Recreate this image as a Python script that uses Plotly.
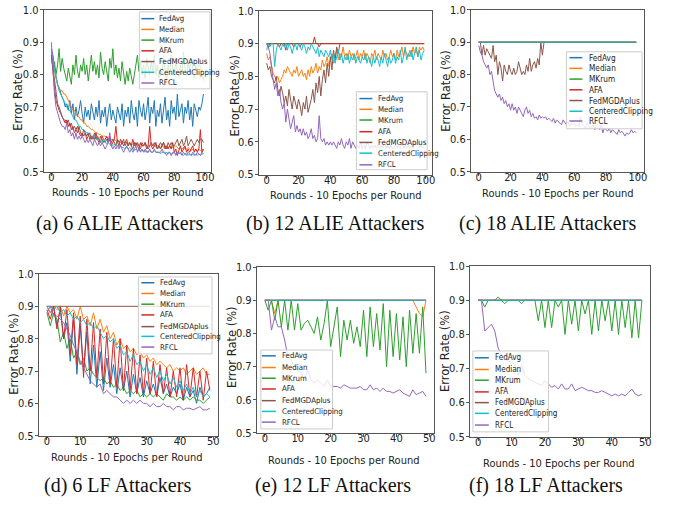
import plotly.graph_objects as go

# ---------------- DATA ----------------
methods = ["FedAvg", "Median", "MKrum", "AFA", "FedMGDAplus", "CenteredClipping", "RFCL"]
colors = ["#1f77b4", "#ff7f0e", "#2ca02c", "#d62728", "#8c564b", "#17becf", "#9467bd"]

x_ticks_alie = [0, 20, 40, 60, 80, 100]
x_ticks_lf = [0, 10, 20, 30, 40, 50]
y_ticks = [0.5, 0.6, 0.7, 0.8, 0.9, 1.0]

captions = ["(a) 6 ALIE Attackers", "(b) 12 ALIE Attackers", "(c) 18 ALIE Attackers",
            "(d) 6 LF Attackers", "(e) 12 LF Attackers", "(f) 18 LF Attackers"]
x_title = "Rounds - 10 Epochs per Round"
y_title = "Error Rate (%)"

# (a) 6 ALIE attackers, 100 rounds
a_fedavg = [0.88, 0.86, 0.82, 0.79, 0.77, 0.76, 0.74, 0.73, 0.72, 0.70,
            0.71, 0.69, 0.72, 0.68, 0.71, 0.66, 0.70, 0.67, 0.69, 0.72,
            0.68, 0.65, 0.70, 0.67, 0.69, 0.66, 0.71, 0.68, 0.66, 0.70,
            0.67, 0.72, 0.65, 0.69, 0.67, 0.70, 0.64, 0.68, 0.71, 0.66,
            0.69, 0.67, 0.65, 0.70, 0.68, 0.66, 0.71, 0.64, 0.69, 0.67,
            0.70, 0.65, 0.72, 0.68, 0.66, 0.70, 0.64, 0.72, 0.69, 0.67,
            0.71, 0.66, 0.69, 0.73, 0.65, 0.70, 0.68, 0.72, 0.64, 0.69,
            0.67, 0.71, 0.65, 0.70, 0.73, 0.66, 0.69, 0.64, 0.72, 0.68,
            0.70, 0.66, 0.74, 0.67, 0.69, 0.71, 0.65, 0.70, 0.68, 0.72,
            0.66, 0.70, 0.64, 0.71, 0.69, 0.67, 0.70, 0.69, 0.71, 0.74]
a_median = [0.87, 0.84, 0.81, 0.79, 0.77, 0.76, 0.75, 0.75, 0.74, 0.74,
            0.73, 0.72, 0.71, 0.70, 0.69, 0.69, 0.68, 0.67, 0.67, 0.66,
            0.66, 0.65, 0.65, 0.64, 0.64, 0.635, 0.63, 0.63, 0.625, 0.62,
            0.62, 0.615, 0.615, 0.61, 0.61, 0.61, 0.605, 0.605, 0.60, 0.60,
            0.60, 0.60, 0.595, 0.595, 0.595, 0.59, 0.59, 0.59, 0.59, 0.59,
            0.59, 0.585, 0.585, 0.585, 0.59, 0.585, 0.585, 0.58, 0.585, 0.58,
            0.58, 0.585, 0.58, 0.58, 0.58, 0.585, 0.58, 0.58, 0.575, 0.58,
            0.58, 0.575, 0.58, 0.575, 0.58, 0.575, 0.575, 0.58, 0.575, 0.575,
            0.575, 0.58, 0.575, 0.57, 0.575, 0.57, 0.575, 0.57, 0.57, 0.575,
            0.57, 0.565, 0.57, 0.565, 0.57, 0.565, 0.57, 0.565, 0.57, 0.565]
a_mkrum = [0.86, 0.82, 0.84, 0.80, 0.83, 0.88, 0.81, 0.85, 0.82, 0.80,
           0.78, 0.82, 0.79, 0.77, 0.83, 0.80, 0.86, 0.81, 0.79, 0.83,
           0.81, 0.85, 0.80, 0.83, 0.78, 0.82, 0.86, 0.81, 0.84, 0.80,
           0.83, 0.79, 0.87, 0.82, 0.80, 0.84, 0.81, 0.78, 0.85, 0.82,
           0.88, 0.80, 0.83, 0.79, 0.82, 0.78, 0.84, 0.80, 0.77, 0.81,
           0.78, 0.82, 0.79, 0.77, 0.80, 0.83, 0.86, 0.81, 0.84, 0.80,
           0.83, 0.79, 0.85, 0.82, 0.80, 0.84, 0.81, 0.86, 0.80, 0.83,
           0.79, 0.82, 0.80, 0.85, 0.81, 0.78, 0.83, 0.80, 0.86, 0.82,
           0.80, 0.84, 0.81, 0.79, 0.83, 0.80, 0.87, 0.82, 0.80, 0.84,
           0.81, 0.85, 0.82, 0.79, 0.83, 0.80, 0.85, 0.82, 0.81, 0.78]
a_afa = [0.86, 0.80, 0.76, 0.72, 0.70, 0.69, 0.68, 0.67, 0.66, 0.65,
         0.66, 0.64, 0.65, 0.63, 0.64, 0.62, 0.63, 0.64, 0.62, 0.61,
         0.62, 0.61, 0.62, 0.60, 0.61, 0.62, 0.60, 0.61, 0.60, 0.62,
         0.60, 0.59, 0.61, 0.60, 0.59, 0.60, 0.61, 0.59, 0.60, 0.58,
         0.59, 0.60, 0.64, 0.59, 0.58, 0.60, 0.59, 0.58, 0.59, 0.60,
         0.58, 0.59, 0.58, 0.60, 0.58, 0.59, 0.58, 0.57, 0.59, 0.58,
         0.58, 0.59, 0.57, 0.58, 0.64, 0.58, 0.57, 0.58, 0.59, 0.57,
         0.58, 0.57, 0.58, 0.59, 0.57, 0.58, 0.57, 0.58, 0.57, 0.59,
         0.56, 0.57, 0.55, 0.57, 0.58, 0.56, 0.57, 0.58, 0.56, 0.57,
         0.56, 0.57, 0.58, 0.56, 0.57, 0.56, 0.57, 0.63, 0.56, 0.57]
a_fedmgda = [0.86, 0.82, 0.78, 0.74, 0.71, 0.70, 0.68, 0.67, 0.66, 0.66,
             0.65, 0.66, 0.64, 0.65, 0.63, 0.64, 0.63, 0.62, 0.64, 0.62,
             0.61, 0.63, 0.62, 0.61, 0.62, 0.60, 0.61, 0.60, 0.62, 0.60,
             0.61, 0.60, 0.59, 0.61, 0.60, 0.59, 0.60, 0.59, 0.61, 0.59,
             0.60, 0.59, 0.58, 0.60, 0.59, 0.58, 0.59, 0.60, 0.58, 0.59,
             0.58, 0.59, 0.58, 0.57, 0.59, 0.58, 0.59, 0.58, 0.57, 0.59,
             0.58, 0.59, 0.58, 0.57, 0.58, 0.59, 0.58, 0.59, 0.58, 0.57,
             0.58, 0.59, 0.58, 0.59, 0.58, 0.57, 0.59, 0.58, 0.59, 0.58,
             0.58, 0.59, 0.60, 0.58, 0.59, 0.60, 0.58, 0.59, 0.61, 0.58,
             0.59, 0.60, 0.59, 0.58, 0.59, 0.60, 0.59, 0.60, 0.60, 0.59]
a_cc = [0.87, 0.84, 0.81, 0.79, 0.77, 0.75, 0.74, 0.73, 0.72, 0.71,
        0.70, 0.69, 0.69, 0.68, 0.67, 0.66, 0.66, 0.65, 0.64, 0.64,
        0.63, 0.63, 0.625, 0.62, 0.62, 0.615, 0.61, 0.61, 0.605, 0.60,
        0.60, 0.60, 0.595, 0.59, 0.60, 0.59, 0.585, 0.59, 0.585, 0.58,
        0.58, 0.585, 0.58, 0.58, 0.575, 0.58, 0.575, 0.575, 0.57, 0.575,
        0.57, 0.575, 0.57, 0.57, 0.565, 0.57, 0.565, 0.57, 0.565, 0.565,
        0.565, 0.56, 0.565, 0.56, 0.565, 0.56, 0.56, 0.565, 0.56, 0.56,
        0.56, 0.555, 0.56, 0.56, 0.555, 0.56, 0.555, 0.56, 0.555, 0.555,
        0.56, 0.555, 0.555, 0.56, 0.555, 0.555, 0.55, 0.555, 0.555, 0.55,
        0.555, 0.55, 0.555, 0.55, 0.555, 0.55, 0.555, 0.55, 0.555, 0.555]
a_rfcl = [0.90, 0.80, 0.74, 0.70, 0.68, 0.66, 0.65, 0.64, 0.64, 0.63,
          0.65, 0.62, 0.63, 0.61, 0.62, 0.60, 0.62, 0.60, 0.61, 0.60,
          0.61, 0.60, 0.59, 0.60, 0.59, 0.60, 0.59, 0.58, 0.60, 0.59,
          0.58, 0.59, 0.58, 0.59, 0.58, 0.57, 0.58, 0.59, 0.62, 0.58,
          0.57, 0.58, 0.57, 0.58, 0.57, 0.58, 0.57, 0.56, 0.57, 0.58,
          0.57, 0.56, 0.57, 0.56, 0.57, 0.58, 0.56, 0.57, 0.56, 0.57,
          0.56, 0.57, 0.56, 0.56, 0.57, 0.56, 0.56, 0.57, 0.56, 0.56,
          0.56, 0.56, 0.57, 0.56, 0.56, 0.55, 0.56, 0.56, 0.55, 0.56,
          0.56, 0.55, 0.56, 0.555, 0.56, 0.55, 0.56, 0.555, 0.55, 0.56,
          0.555, 0.55, 0.56, 0.555, 0.55, 0.56, 0.555, 0.55, 0.56, 0.555]

# (b) 12 ALIE attackers
b_fedavg = [0.9] * 100
b_median = [0.87, 0.85, 0.86, 0.83, 0.81, 0.80, 0.79, 0.80, 0.78, 0.79,
            0.80, 0.82, 0.81, 0.83, 0.82, 0.81, 0.80, 0.82, 0.81, 0.83,
            0.80, 0.81, 0.82, 0.80, 0.81, 0.79, 0.82, 0.80, 0.83, 0.81,
            0.82, 0.84, 0.81, 0.83, 0.82, 0.85, 0.83, 0.84, 0.86, 0.83,
            0.85, 0.87, 0.84, 0.86, 0.88, 0.85, 0.87, 0.86, 0.89, 0.86,
            0.87, 0.85, 0.88, 0.86, 0.87, 0.85, 0.86, 0.88, 0.85, 0.87,
            0.86, 0.88, 0.85, 0.87, 0.86, 0.84, 0.87, 0.86, 0.88, 0.85,
            0.87, 0.86, 0.85, 0.88, 0.86, 0.87, 0.85, 0.86, 0.88, 0.86,
            0.87, 0.85, 0.88, 0.86, 0.87, 0.89, 0.86, 0.88, 0.87, 0.86,
            0.88, 0.86, 0.89, 0.87, 0.88, 0.86, 0.89, 0.88, 0.89, 0.88]
b_mkrum = [0.9] * 100
b_afa = [0.9, 0.89, 0.9, 0.9, 0.9, 0.9, 0.9, 0.9, 0.89, 0.9,
         0.9, 0.9, 0.88, 0.9, 0.9, 0.9, 0.9, 0.89, 0.9, 0.9,
         0.9, 0.89, 0.9, 0.9, 0.9, 0.9, 0.9, 0.9, 0.9, 0.9,
         0.92, 0.9, 0.9, 0.89, 0.9, 0.9, 0.9, 0.9, 0.9, 0.9] + [0.9] * 60
b_fedmgda = [0.84, 0.82, 0.83, 0.80, 0.79, 0.78, 0.80, 0.76, 0.74, 0.77,
             0.75, 0.72, 0.74, 0.71, 0.76, 0.73, 0.70, 0.74, 0.72, 0.70,
             0.73, 0.71, 0.68, 0.72, 0.70, 0.74, 0.69, 0.71, 0.73, 0.76,
             0.72, 0.78, 0.75, 0.80, 0.74, 0.79, 0.82, 0.78, 0.84, 0.80,
             0.86, 0.82, 0.88, 0.85, 0.89, 0.87, 0.90]
b_cc = [0.88, 0.90, 0.89, 0.90, 0.90, 0.83, 0.88, 0.90, 0.89, 0.88,
        0.90, 0.89, 0.90, 0.88, 0.90, 0.89, 0.87, 0.89, 0.90, 0.88,
        0.90, 0.89, 0.88, 0.90, 0.89, 0.87, 0.89, 0.88, 0.90, 0.89,
        0.88, 0.87, 0.89, 0.86, 0.88, 0.87, 0.86, 0.88, 0.87, 0.86,
        0.88, 0.85, 0.87, 0.84, 0.86, 0.88, 0.85, 0.87, 0.84, 0.86,
        0.85, 0.87, 0.84, 0.86, 0.85, 0.87, 0.84, 0.86, 0.85, 0.84,
        0.86, 0.85, 0.87, 0.84, 0.86, 0.85, 0.83, 0.86, 0.84, 0.86,
        0.85, 0.83, 0.86, 0.84, 0.87, 0.85, 0.83, 0.86, 0.84, 0.85,
        0.87, 0.84, 0.86, 0.85, 0.88, 0.84, 0.86, 0.89, 0.85, 0.87,
        0.86, 0.88, 0.85, 0.87, 0.89, 0.86, 0.88, 0.85, 0.87, 0.88]
b_rfcl = [0.90, 0.89, 0.87, 0.82, 0.79, 0.76, 0.78, 0.74, 0.76, 0.72,
          0.70, 0.72, 0.66, 0.70, 0.67, 0.64, 0.66, 0.68, 0.63, 0.65,
          0.63, 0.64, 0.62, 0.64, 0.62, 0.63, 0.61, 0.62, 0.64, 0.61,
          0.62, 0.60, 0.61, 0.68, 0.61, 0.60, 0.61, 0.59, 0.60, 0.59,
          0.60, 0.59, 0.60, 0.59, 0.58, 0.60, 0.59, 0.61, 0.59, 0.58,
          0.60, 0.59, 0.61, 0.58, 0.60, 0.59, 0.58, 0.59, 0.58, 0.60,
          0.58, 0.59, 0.58, 0.60, 0.59, 0.58, 0.59, 0.58, 0.59, 0.58,
          0.59, 0.58, 0.59, 0.58, 0.60, 0.58, 0.59, 0.58, 0.59, 0.58,
          0.58, 0.59, 0.58, 0.59, 0.58, 0.60, 0.58, 0.59, 0.58, 0.59,
          0.58, 0.59, 0.58, 0.60, 0.59, 0.61, 0.58, 0.59, 0.58, 0.59]

# (c) 18 ALIE attackers
c_fedavg = [0.9] * 100
c_median = [0.9] * 100
c_mkrum = [0.9] * 100
c_afa = [0.9] * 100
c_fedmgda = [0.90, 0.90, 0.86, 0.89, 0.86, 0.88, 0.87, 0.86, 0.85, 0.89,
             0.84, 0.86, 0.80, 0.84, 0.82, 0.78, 0.83, 0.81, 0.80, 0.83,
             0.81, 0.80, 0.82, 0.80, 0.81, 0.84, 0.82, 0.80, 0.81, 0.80,
             0.83, 0.81, 0.85, 0.81, 0.83, 0.84, 0.82, 0.85, 0.83, 0.90,
             0.86, 0.90, 0.90]
c_cc = [0.9] * 100
c_rfcl = [0.89, 0.87, 0.86, 0.84, 0.83, 0.82, 0.83, 0.80, 0.81, 0.78,
          0.75, 0.74, 0.73, 0.74, 0.72, 0.73, 0.71, 0.72, 0.70, 0.71,
          0.69, 0.71, 0.69, 0.70, 0.68, 0.70, 0.69, 0.68, 0.67, 0.69,
          0.70, 0.68, 0.69, 0.67, 0.68, 0.665, 0.67, 0.66, 0.675, 0.665,
          0.67, 0.665, 0.67, 0.66, 0.665, 0.66, 0.655, 0.665, 0.65, 0.66,
          0.655, 0.65, 0.645, 0.66, 0.65, 0.645, 0.655, 0.64, 0.65, 0.645,
          0.65, 0.64, 0.645, 0.64, 0.67, 0.645, 0.64, 0.635, 0.65, 0.64,
          0.635, 0.64, 0.645, 0.63, 0.64, 0.635, 0.63, 0.645, 0.62, 0.635,
          0.63, 0.625, 0.635, 0.62, 0.63, 0.625, 0.62, 0.615, 0.63, 0.62,
          0.625, 0.615, 0.61, 0.62, 0.615, 0.62, 0.63, 0.62, 0.625, 0.62]

# (d) 6 LF attackers, 50 rounds
d_fedavg = [0.90, 0.88, 0.90, 0.84, 0.89, 0.80, 0.85, 0.73, 0.86, 0.69,
            0.84, 0.70, 0.82, 0.66, 0.78, 0.65, 0.76, 0.64, 0.74, 0.65,
            0.72, 0.63, 0.71, 0.64, 0.70, 0.62, 0.69, 0.63, 0.68, 0.62,
            0.67, 0.63, 0.66, 0.62, 0.68, 0.63, 0.66, 0.62, 0.65, 0.63,
            0.66, 0.61, 0.65, 0.62, 0.64, 0.60, 0.65, 0.62, 0.63, 0.65]
d_median = [0.90, 0.88, 0.90, 0.89, 0.90, 0.87, 0.90, 0.88, 0.89, 0.86,
            0.90, 0.86, 0.87, 0.84, 0.88, 0.83, 0.86, 0.82, 0.84, 0.80,
            0.82, 0.78, 0.80, 0.77, 0.78, 0.76, 0.77, 0.75, 0.76, 0.74,
            0.75, 0.73, 0.74, 0.72, 0.73, 0.72, 0.71, 0.72, 0.70, 0.71,
            0.70, 0.71, 0.69, 0.70, 0.71, 0.69, 0.70, 0.71, 0.69, 0.69]
d_mkrum = [0.88, 0.84, 0.88, 0.86, 0.79, 0.82, 0.77, 0.80, 0.74, 0.76,
           0.72, 0.74, 0.70, 0.71, 0.69, 0.68, 0.67, 0.68, 0.66, 0.67,
           0.65, 0.66, 0.64, 0.65, 0.63, 0.64, 0.63, 0.64, 0.62, 0.63,
           0.62, 0.63, 0.62, 0.63, 0.62, 0.61, 0.63, 0.62, 0.62, 0.61,
           0.62, 0.61, 0.62, 0.61, 0.62, 0.61, 0.61, 0.60, 0.61, 0.62]
d_afa = [0.89, 0.86, 0.90, 0.83, 0.90, 0.80, 0.89, 0.75, 0.88, 0.72,
         0.87, 0.68, 0.86, 0.70, 0.85, 0.68, 0.83, 0.66, 0.82, 0.66,
         0.80, 0.65, 0.80, 0.64, 0.78, 0.64, 0.77, 0.63, 0.75, 0.63,
         0.74, 0.63, 0.73, 0.62, 0.72, 0.63, 0.71, 0.62, 0.70, 0.62,
         0.71, 0.61, 0.72, 0.62, 0.71, 0.62, 0.70, 0.61, 0.70, 0.64]
d_fedmgda = [0.9] * 50
d_cc = [0.90, 0.90, 0.89, 0.90, 0.88, 0.89, 0.87, 0.88, 0.86, 0.87,
        0.85, 0.86, 0.84, 0.85, 0.83, 0.84, 0.82, 0.80, 0.81, 0.79,
        0.80, 0.77, 0.78, 0.75, 0.76, 0.73, 0.75, 0.72, 0.73, 0.70,
        0.72, 0.69, 0.71, 0.68, 0.70, 0.67, 0.69, 0.66, 0.68, 0.65,
        0.67, 0.64, 0.66, 0.63, 0.65, 0.62, 0.64, 0.62, 0.63, 0.62]
d_rfcl = [0.88, 0.90, 0.87, 0.87, 0.86, 0.85, 0.83, 0.81, 0.78, 0.76,
          0.73, 0.71, 0.69, 0.67, 0.66, 0.65, 0.66, 0.63, 0.64, 0.63,
          0.62, 0.62, 0.61, 0.60, 0.61, 0.60, 0.61, 0.60, 0.61, 0.60,
          0.60, 0.59, 0.60, 0.59, 0.59, 0.60, 0.59, 0.59, 0.58, 0.59,
          0.59, 0.58, 0.585, 0.585, 0.58, 0.585, 0.59, 0.58, 0.58, 0.585]

# (e) 12 LF attackers
e_fedavg = [0.9] * 50
e_median = [0.90, 0.90, 0.90, 0.86, 0.90, 0.90, 0.90, 0.90, 0.90, 0.90] + [0.9] * 35 + \
           [0.90, 0.88, 0.86, 0.85, 0.90]
e_mkrum = [0.90, 0.87, 0.90, 0.84, 0.90, 0.82, 0.90, 0.81, 0.90, 0.81,
           0.89, 0.81, 0.83, 0.84, 0.82, 0.80, 0.85, 0.78, 0.83, 0.90,
           0.76, 0.82, 0.88, 0.73, 0.84, 0.78, 0.84, 0.77, 0.82, 0.76,
           0.87, 0.73, 0.88, 0.76, 0.86, 0.75, 0.89, 0.70, 0.87, 0.73,
           0.86, 0.72, 0.85, 0.70, 0.87, 0.74, 0.86, 0.74, 0.88, 0.68]
e_afa = [0.9] * 50
e_fedmgda = [0.9] * 50
e_cc = [0.9] * 50
e_rfcl = [0.90, 0.90, 0.81, 0.85, 0.82, 0.82, 0.78, 0.73, 0.72, 0.70,
          0.69, 0.68, 0.66, 0.69, 0.66, 0.65, 0.66, 0.65, 0.64, 0.66,
          0.64, 0.64, 0.64, 0.635, 0.645, 0.64, 0.635, 0.635, 0.635, 0.64,
          0.63, 0.63, 0.645, 0.63, 0.635, 0.625, 0.635, 0.625, 0.625, 0.62,
          0.625, 0.63, 0.62, 0.615, 0.61, 0.63, 0.615, 0.62, 0.625, 0.61]

# (f) 18 LF attackers
f_fedavg = [0.9] * 50
f_median = [0.9] * 50
f_mkrum = [0.90, 0.90, 0.88, 0.90, 0.90, 0.90, 0.91, 0.90, 0.89, 0.90,
           0.90, 0.90, 0.90, 0.89, 0.90, 0.90, 0.90, 0.90, 0.84, 0.90,
           0.82, 0.90, 0.82, 0.90, 0.88, 0.90, 0.80, 0.90, 0.83, 0.90,
           0.81, 0.90, 0.86, 0.90, 0.80, 0.90, 0.81, 0.90, 0.84, 0.90,
           0.81, 0.90, 0.80, 0.90, 0.82, 0.90, 0.79, 0.90, 0.79, 0.90]
f_afa = [0.9] * 50
f_fedmgda = [0.9] * 50
f_cc = [0.9] * 50
f_rfcl = [0.90, 0.90, 0.81, 0.82, 0.83, 0.81, 0.76, 0.74, 0.73, 0.72,
          0.72, 0.71, 0.68, 0.71, 0.68, 0.67, 0.665, 0.66, 0.655, 0.65,
          0.665, 0.655, 0.645, 0.65, 0.64, 0.655, 0.64, 0.64, 0.655, 0.635,
          0.64, 0.645, 0.64, 0.635, 0.635, 0.63, 0.63, 0.635, 0.63, 0.625,
          0.62, 0.625, 0.62, 0.625, 0.62, 0.63, 0.64, 0.625, 0.62, 0.625]

panel_series = [
    [a_fedavg, a_median, a_mkrum, a_afa, a_fedmgda, a_cc, a_rfcl],
    [b_fedavg, b_median, b_mkrum, b_afa, b_fedmgda, b_cc, b_rfcl],
    [c_fedavg, c_median, c_mkrum, c_afa, c_fedmgda, c_cc, c_rfcl],
    [d_fedavg, d_median, d_mkrum, d_afa, d_fedmgda, d_cc, d_rfcl],
    [e_fedavg, e_median, e_mkrum, e_afa, e_fedmgda, e_cc, e_rfcl],
    [f_fedavg, f_median, f_mkrum, f_afa, f_fedmgda, f_cc, f_rfcl],
]
panel_xticks = [x_ticks_alie] * 3 + [x_ticks_lf] * 3
panel_rounds = [100, 100, 100, 50, 50, 50]

# ---------------- LAYOUT (pixel geometry) ----------------
W, H = 673, 510
def px(x):
    return x / W
def py(y):
    return 1 - y / H

# axes boxes: (left, top, right, bottom) in px
boxes = [(44, 4, 212, 170), (260, 5, 434, 173), (473, 4, 647, 170),
         (39, 275, 219, 441), (258, 268, 436, 438), (472, 267, 653, 442)]
# legend: box (x0,y0,x1,y1), line x0, line x1, text x, entry ys, font size
legends = [
    ((140, 6, 211, 85), 142, 155, 158, [13, 24, 35, 46, 57, 68, 79], 7.8),
    ((358, 88, 429, 168), 361, 374, 378, [95, 106, 117, 129, 140, 151, 163], 7.8),
    ((569, 47, 645, 126), 572, 585, 590, [53, 64, 75, 86, 97, 108, 118], 8.2),
    ((139, 278, 213, 357), 142, 155, 159, [284, 295, 306, 317, 329, 339, 350], 7.8),
    ((262, 353, 334, 434), 263, 277, 281, [359, 371, 382, 393, 405, 416, 427], 7.8),
    ((475, 354, 551, 437), 477, 491, 495, [361, 373, 384, 396, 407, 418, 430], 8.0),
]
ytitle_pos = [(18, 86), (236, 92), (448, 87), (14, 357), (233, 350), (447, 354)]
xtitle_pos = [(128, 191), (347, 194), (560, 192), (127, 463), (345, 466), (561, 469)]
caption_pos = [(120, 223), (336, 223), (550, 223), (118, 492), (334, 492), (548, 492)]

narrow = "Liberation Sans Narrow, DejaVu Sans Condensed, Arial Narrow, sans-serif"
frame_color = "#555555"

fig = go.Figure()
shapes = []
annotations = []
layout_axes = {}

for i in range(6):
    k = i + 1
    xa = "x" if k == 1 else f"x{k}"
    ya = "y" if k == 1 else f"y{k}"
    n = panel_rounds[i]
    for m, (name, col) in enumerate(zip(methods, colors)):
        vals = panel_series[i][m]
        fig.add_trace(go.Scatter(
            x=list(range(len(vals))), y=vals, mode="lines", name=name,
            line=dict(color=col, width=1), xaxis=xa, yaxis=ya, showlegend=False))
    l, t, r, b = boxes[i]
    span = n - 1
    axis_common = dict(showline=True, mirror=True, linecolor=frame_color, linewidth=1,
                       ticks="outside", ticklen=3, tickcolor=frame_color, showgrid=False,
                       zeroline=False, tickfont=dict(family=narrow, size=11, color="#222"))
    layout_axes["xaxis" if k == 1 else f"xaxis{k}"] = dict(
        domain=[px(l), px(r)], range=[-0.05 * span, 1.05 * span], anchor=ya,
        tickmode="array", tickvals=panel_xticks[i], ticklabelstandoff=-8, **axis_common)
    layout_axes["yaxis" if k == 1 else f"yaxis{k}"] = dict(
        domain=[py(b), py(t)], range=[0.5, 1.0], anchor=xa,
        tickmode="array", tickvals=y_ticks, tickformat=".1f", ticklabelstandoff=-1,
        **axis_common)

    # legend
    (bx0, by0, bx1, by1), lx0, lx1, tx, ys, fs = legends[i]
    shapes.append(dict(type="rect", xref="paper", yref="paper",
                       x0=px(bx0), x1=px(bx1), y0=py(by1), y1=py(by0),
                       fillcolor="rgba(255,255,255,0.8)", line=dict(color="#cccccc", width=1),
                       layer="above"))
    for m, (name, col) in enumerate(zip(methods, colors)):
        shapes.append(dict(type="line", xref="paper", yref="paper",
                           x0=px(lx0), x1=px(lx1), y0=py(ys[m]), y1=py(ys[m]),
                           line=dict(color=col, width=1.5), layer="above"))
        annotations.append(dict(text=name, x=px(tx), y=py(ys[m]), xref="paper", yref="paper",
                                xanchor="left", yanchor="middle", showarrow=False,
                                font=dict(family=narrow, size=fs, color="#222")))
    # axis titles
    yx, yy = ytitle_pos[i]
    annotations.append(dict(text=y_title, x=px(yx), y=py(yy), xref="paper", yref="paper",
                            xanchor="center", yanchor="middle", textangle=-90, showarrow=False,
                            font=dict(family="DejaVu Sans", size=11.5, color="#222")))
    xx, xy = xtitle_pos[i]
    annotations.append(dict(text=x_title, x=px(xx), y=py(xy), xref="paper", yref="paper",
                            xanchor="center", yanchor="middle", showarrow=False,
                            font=dict(family=narrow, size=11, color="#222")))
    cx, cy = caption_pos[i]
    annotations.append(dict(text=captions[i], x=px(cx), y=py(cy), xref="paper", yref="paper",
                            xanchor="center", yanchor="middle", showarrow=False,
                            font=dict(family="Liberation Serif, Times New Roman, serif",
                                      size=20, color="#111")))

fig.update_layout(
    width=W, height=H, margin=dict(l=0, r=0, t=0, b=0),
    paper_bgcolor="white", plot_bgcolor="white", showlegend=False,
    shapes=shapes, annotations=annotations, **layout_axes)

fig.write_html("out.html")
